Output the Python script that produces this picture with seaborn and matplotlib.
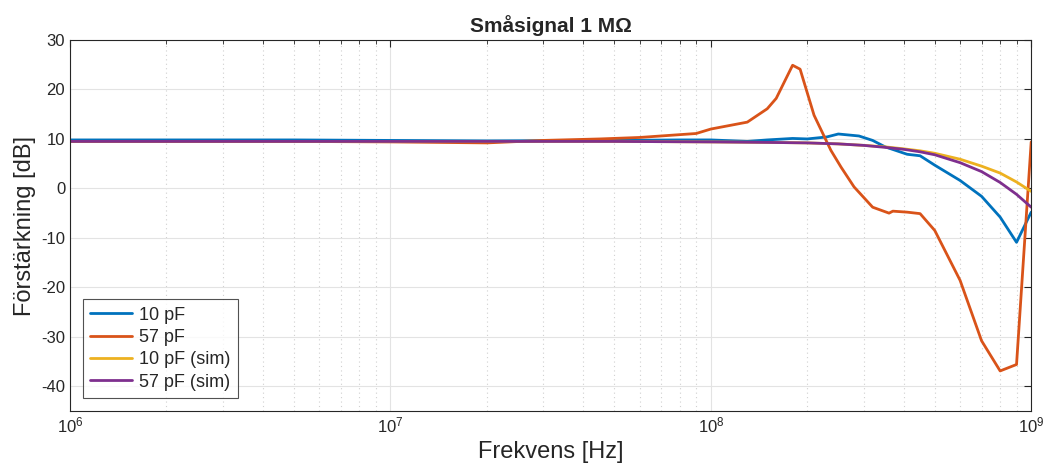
import numpy as np
import pandas as pd
import seaborn as sns
from matplotlib import pyplot as plt
from matplotlib.ticker import LogLocator, NullFormatter

# Mätdata, 10 pF
f_10 = [1e6, 2e6, 5e6, 1e7, 2e7, 5e7, 8e7, 1e8, 1.3e8, 1.5e8, 1.8e8, 2e8, 2.3e8, 2.5e8,
        2.9e8, 3.2e8, 3.5e8, 4.1e8, 4.5e8, 5e8, 6e8, 7e8, 8e8, 9e8, 1e9]
db_10 = [9.8, 9.8, 9.8, 9.7, 9.6, 9.7, 9.8, 9.8, 9.5, 9.8, 10.1, 10.0, 10.4, 11.0,
         10.6, 9.7, 8.4, 6.9, 6.6, 4.7, 1.6, -1.6, -5.8, -10.9, -4.8]

# Mätdata, 57 pF
f_57 = [1e6, 2e6, 5e6, 1e7, 2e7, 3e7, 4.5e7, 6e7, 9e7, 1e8, 1.3e8, 1.5e8, 1.6e8, 1.8e8,
        1.9e8, 2.1e8, 2.37e8, 2.55e8, 2.8e8, 3.2e8, 3.6e8, 3.7e8, 4.1e8, 4.5e8, 5e8,
        6e8, 7e8, 8e8, 9e8, 1e9]
db_57 = [9.5, 9.5, 9.5, 9.4, 9.2, 9.7, 10.0, 10.3, 11.1, 12.0, 13.4, 16.1, 18.2, 24.9,
         24.1, 14.8, 7.7, 4.3, 0.3, -3.8, -5.0, -4.6, -4.8, -5.1, -8.5,
         -18.6, -30.8, -36.9, -35.6, 9.4]

# Simulering
f_sim = [1e6, 1e7, 5e7, 1e8, 1.5e8, 2e8, 2.5e8, 3e8, 3.5e8, 4e8, 4.5e8, 5e8, 6e8, 7e8, 8e8, 9e8, 1e9]
db_10_sim = [9.5, 9.5, 9.5, 9.4, 9.3, 9.2, 9.0, 8.7, 8.4, 8.0, 7.6, 7.1, 5.9, 4.5, 3.1, 1.3, -0.6]
db_57_sim = [9.5, 9.5, 9.5, 9.4, 9.3, 9.2, 9.0, 8.7, 8.3, 7.9, 7.4, 6.8, 5.2, 3.4, 1.2, -1.2, -3.8]

labels = ['10 pF', '57 pF', '10 pF (sim)', '57 pF (sim)']
colors = ['#0072BD', '#D95319', '#EDB120', '#7E2F8E']

df = pd.concat([
    pd.DataFrame({'f': f_10, 'dB': db_10, 'serie': labels[0]}),
    pd.DataFrame({'f': f_57, 'dB': db_57, 'serie': labels[1]}),
    pd.DataFrame({'f': f_sim, 'dB': db_10_sim, 'serie': labels[2]}),
    pd.DataFrame({'f': f_sim, 'dB': db_57_sim, 'serie': labels[3]}),
])

sns.set_style('white')
plt.rcParams['font.family'] = ['Liberation Sans', 'DejaVu Sans']
plt.rcParams['axes.unicode_minus'] = False

fig = plt.figure(figsize=(10.47, 4.68), dpi=100)
ax = fig.add_axes([0.0669, 0.1218, 0.918, 0.7927])

sns.lineplot(data=df, x='f', y='dB', hue='serie', hue_order=labels,
             palette=dict(zip(labels, colors)), estimator=None, sort=False,
             linewidth=2, ax=ax)

ax.set_xscale('log')
ax.set_xlim(1e6, 1e9)
ax.set_ylim(-45, 30)
ax.set_yticks(np.arange(-40, 31, 10))
ax.xaxis.set_minor_locator(LogLocator(base=10, subs=np.arange(2, 10), numticks=20))
ax.xaxis.set_minor_formatter(NullFormatter())

ax.grid(True, which='major', color='#e3e3e3', linewidth=0.8)
ax.grid(True, which='minor', axis='x', color='#d0d0d0', linestyle=(0, (1, 3)), linewidth=0.8)
ax.set_axisbelow(True)

ax.tick_params(which='both', direction='in', top=True, right=True, color='#262626',
               labelsize=12, labelcolor='#262626')
ax.tick_params(which='major', length=5)
ax.tick_params(which='minor', length=3)
for s in ax.spines.values():
    s.set_color('#262626')
    s.set_linewidth(0.8)

ax.set_xlabel('Frekvens [Hz]', fontsize=17, color='#262626')
ax.set_ylabel('Förstärkning [dB]', fontsize=17, color='#262626')
ax.set_title('Småsignal 1 MΩ', fontsize=15, fontweight='bold', pad=6)

leg = ax.legend(loc='lower left', bbox_to_anchor=(0.0135, 0.035), borderaxespad=0,
                fontsize=13, frameon=True, fancybox=False, edgecolor='#262626',
                handlelength=2.3, borderpad=0.4, labelspacing=0.3, handletextpad=0.4)
leg.get_frame().set_linewidth(0.8)
leg.set_title(None)

fig.savefig('out.png', dpi=100)
